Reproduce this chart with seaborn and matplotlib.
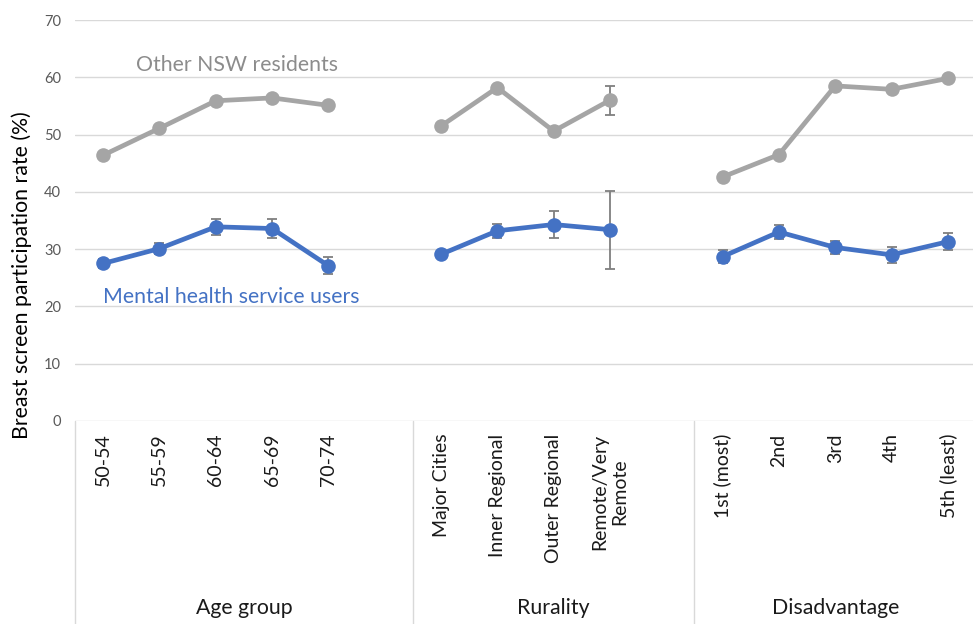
import matplotlib
matplotlib.use("Agg")
import matplotlib.pyplot as plt
import pandas as pd
import seaborn as sns

# Category groups and their tick labels
groups = ["Age group", "Rurality", "Disadvantage"]
age_labels = ["50-54", "55-59", "60-64", "65-69", "70-74"]
rurality_labels = ["Major Cities", "Inner Regional", "Outer Regional", "Remote/Very\nRemote"]
disadvantage_labels = ["1st (most)", "2nd", "3rd", "4th", "5th (least)"]

# Participation rates (%) – other NSW residents
other_age = [46.4, 51.1, 55.9, 56.4, 55.1]
other_rurality = [51.5, 58.2, 50.6, 56.0]
other_disadvantage = [42.6, 46.5, 58.5, 57.9, 59.8]
other_age_err = [0.3, 0.3, 0.3, 0.3, 0.3]
other_rurality_err = [0.3, 0.3, 0.3, 2.5]
other_disadvantage_err = [0.3, 0.3, 0.3, 0.3, 0.3]

# Participation rates (%) – mental health service users
mh_age = [27.5, 30.1, 33.9, 33.6, 27.1]
mh_rurality = [29.1, 33.2, 34.3, 33.4]
mh_disadvantage = [28.7, 33.0, 30.3, 29.0, 31.3]
mh_age_err = [0.8, 0.9, 1.4, 1.6, 1.5]
mh_rurality_err = [0.4, 1.2, 2.4, 6.8]
mh_disadvantage_err = [1.1, 1.3, 1.2, 1.4, 1.5]

series_names = ["Other NSW residents", "Mental health service users"]
series_colors = {"Other NSW residents": "#A5A5A5",
                 "Mental health service users": "#4472C4"}

group_labels = [age_labels, rurality_labels, disadvantage_labels]
values = {
    "Other NSW residents": [other_age, other_rurality, other_disadvantage],
    "Mental health service users": [mh_age, mh_rurality, mh_disadvantage],
}
errors = {
    "Other NSW residents": [other_age_err, other_rurality_err, other_disadvantage_err],
    "Mental health service users": [mh_age_err, mh_rurality_err, mh_disadvantage_err],
}

# Slot positions: one empty slot separates consecutive groups
positions, starts, start = [], [], 0
for labels in group_labels:
    positions.append(list(range(start, start + len(labels))))
    starts.append(start)
    start += len(labels) + 1
x_max = positions[-1][-1] + 0.5
left_edges = [s - 0.5 for s in starts]
right_edges = left_edges[1:] + [x_max]

rows = []
for s in series_names:
    for g, pos, vals, errs in zip(groups, positions, values[s], errors[s]):
        for p, v, e in zip(pos, vals, errs):
            rows.append({"series": s, "group": g, "pos": p, "value": v, "err": e})
df = pd.DataFrame(rows)

sns.set_theme(style="white")
plt.rcParams["font.family"] = ["Lato", "DejaVu Sans"]

W, H = 973, 624
fig = plt.figure(figsize=(W / 100, H / 100), dpi=100)
ax = fig.add_axes([75 / W, 1 - 421 / H, 901 / W, 401 / H])

for s in series_names:
    sub = df[df["series"] == s]
    ax.errorbar(sub["pos"], sub["value"], yerr=sub["err"], fmt="none",
                ecolor="#7F7F7F", elinewidth=1.3, capsize=3.5, capthick=1.3, zorder=2)

sns.lineplot(data=df, x="pos", y="value", hue="series", units="group",
             estimator=None, palette=series_colors, hue_order=series_names,
             marker="o", markersize=10.5, markeredgewidth=0, linewidth=3.4,
             legend=False, ax=ax, zorder=3)

ax.set_xlim(-0.5, x_max)
ax.set_ylim(0, 70)
ax.set_yticks(range(0, 71, 10))
ax.grid(axis="y", color="#D9D9D9", linewidth=1)
ax.grid(axis="x", visible=False)
for sp in ax.spines.values():
    sp.set_visible(False)

all_pos = [p for pos in positions for p in pos]
all_labels = [l for labels in group_labels for l in labels]
ax.set_xticks(all_pos)
ax.set_xticklabels(all_labels, rotation=90, fontsize=14, color="#1A1A1A")
ax.tick_params(axis="x", length=0, pad=9)
ax.tick_params(axis="y", length=0, pad=10, labelsize=10.5, labelcolor="#595959")
ax.set_xlabel("")
ax.set_ylabel("")

# Group boxes below the category axis
trans = ax.get_xaxis_transform()
depth = -(H - 421) / 401
for x in left_edges:
    ax.plot([x, x], [0, depth], color="#D9D9D9", lw=1, transform=trans, clip_on=False)
for g, lo, hi in zip(groups, left_edges, right_edges):
    ax.text((lo + hi) / 2, -(608 - 421) / 401, g, transform=trans, ha="center",
            va="center", fontsize=15.3, color="#1A1A1A")

# Series labels
ax.text(2.38, 62.1, "Other NSW residents", ha="center", va="center",
        fontsize=15.3, color="#8C8C8C")
ax.text(0.0, 21.6, "Mental health service users", ha="left", va="center",
        fontsize=15.3, color="#4472C4")

fig.text(22 / W, 1 - 275 / H, "Breast screen participation rate (%)", rotation=90,
         ha="center", va="center", fontsize=15.3, color="#000000")

fig.savefig("out.png", dpi=100, facecolor="white")
